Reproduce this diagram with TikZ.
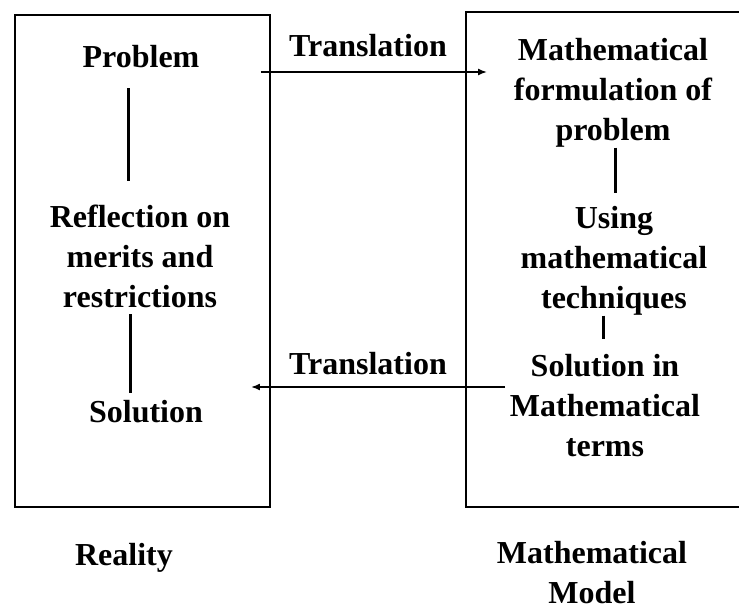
\documentclass[tikz,border=0pt]{standalone}
\usepackage{fontspec}
\setmainfont{Liberation Serif}
\usetikzlibrary{arrows.meta}
\begin{document}
\begin{tikzpicture}[x=1pt,y=-1pt,
  txt/.style={inner sep=0pt,align=center,font=\fontsize{32}{40}\selectfont\bfseries},
  frame/.style={draw,line width=1.9pt,inner sep=0pt,minimum width=#1},
  conn/.style={line width=3pt},
  arr/.style={line width=1.7pt,-{Latex[length=9pt,width=7pt]}}]
\useasboundingbox (0,0) rectangle (739,610);
\clip (0,0) rectangle (739,610);
% boxes
\node[frame=255pt,minimum height=492pt] (lbox) at (142.5,261) {};
\node[frame=294pt,minimum height=495pt] (rbox) at (613,259.5) {};
% left column
\node[txt] (prob) at (141,57) {Problem};
\node[txt] (refl) at (140,256.5) {Reflection on\\merits and\\restrictions};
\node[txt] (sol) at (146,412) {Solution};
\node[txt] (real) at (124,557.5) {Reality};
% right column
\node[txt] (form) at (613,93) {Mathematical\\formulation of\\problem};
\node[txt] (using) at (614,261) {Using\\mathematical\\techniques};
\node[txt] (msol) at (605,405.5) {Solution in\\Mathematical\\terms};
\node[txt] (model) at (592,573) {Mathematical\\Model};
% translation labels
\node[txt] (t1) at (368,46) {Translation};
\node[txt] (t2) at (368,364) {Translation};
% connectors
\coordinate (c1) at (128,0);
\coordinate (c2) at (130,0);
\coordinate (c3) at (615,0);
\coordinate (c4) at (603,0);
\draw[conn,shorten <=20pt,shorten >=24pt] (prob.south -| c1) -- (refl.north -| c1);
\draw[conn,shorten <=6pt,shorten >=8pt] (refl.south -| c2) -- (sol.north -| c2);
\draw[conn,shorten <=0pt,shorten >=13pt] (form.south -| c3) -- (using.north -| c3);
\draw[conn,shorten <=0pt,shorten >=15pt] (using.south -| c4) -- (msol.north -| c4);
% arrows
\coordinate (a1) at (0,72);
\coordinate (a2) at (0,387);
\draw[arr] ([xshift=-10pt]lbox.east |- a1) -- ([xshift=22pt]rbox.west |- a1);
\draw[arr] ([xshift=40pt]rbox.west |- a2) -- ([xshift=-20pt]lbox.east |- a2);
\end{tikzpicture}
\end{document}
